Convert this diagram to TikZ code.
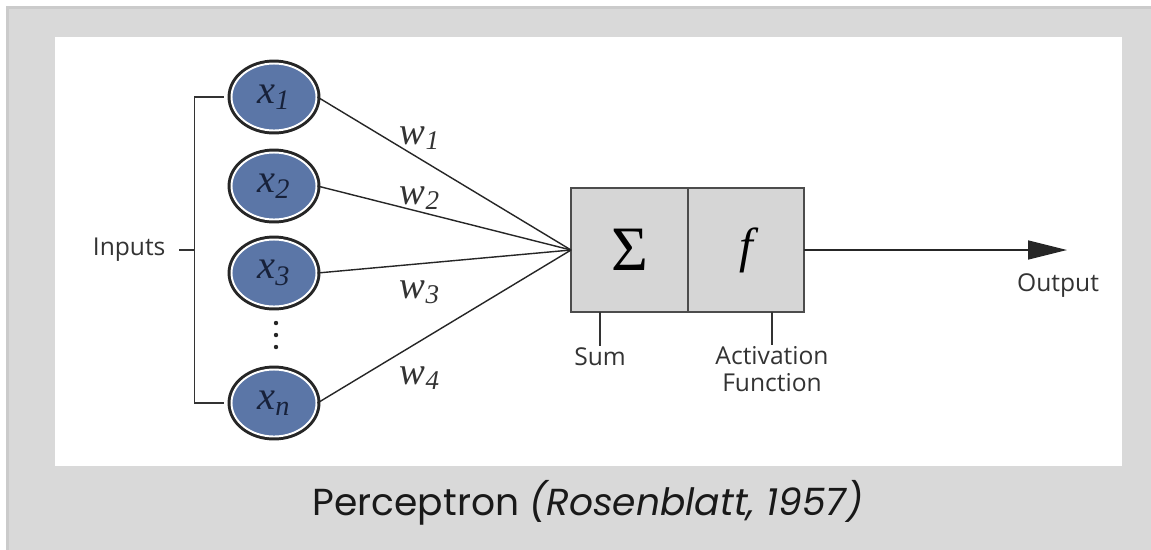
\documentclass[tikz,border=0pt]{standalone}
\usepackage{fontspec}
\setmainfont{Liberation Serif}
\newfontfamily\lblfont{Open Sans}
\newfontfamily\capfont{Poppins}
\usepackage{xcolor}
\usetikzlibrary{arrows.meta, positioning, shapes.geometric}
\definecolor{clrBack}{HTML}{D9D9D9}
\definecolor{clrFrame}{HTML}{CBCBCB}
\definecolor{clrNode}{HTML}{5B76A7}
\definecolor{clrNavy}{HTML}{17213A}
\definecolor{clrBox}{HTML}{D6D6D6}
\definecolor{clrInk}{HTML}{333333}

\begin{document}
\begin{tikzpicture}[x=0.02cm, y=-0.02cm,
    inp/.style={ellipse, minimum width=1.7cm, minimum height=1.34cm, inner sep=0pt, fill=clrNode, draw=white, line width=1.1pt, preaction={draw=black!85, line width=4.5pt}, text=clrNavy, font=\fontsize{23}{24}\selectfont\itshape},
    wlbl/.style={text=black!80, font=\fontsize{22}{24}\selectfont\itshape},
    part/.style={rectangle, draw=black!70, fill=clrBox, line width=1.1pt, minimum width=2.34cm, minimum height=2.48cm, outer sep=0pt},
    lbl/.style={text=clrInk, font=\lblfont\fontsize{14}{15}\selectfont, align=center, inner sep=1pt},
    wire/.style={line width=0.8pt, black!85},
    brace/.style={line width=0.8pt, clrInk},
    outarrow/.style={-{Triangle[length=0.78cm, width=0.38cm]}, line width=0.8pt, black!85},
]
\useasboundingbox (0,0) rectangle (1151,549);

% frame and white panel
\fill[white] (0,0) rectangle (1151,549);
\draw[fill=clrBack, draw=clrFrame, line width=1.7pt] (7.5,7.5) rectangle (1170,570);
\fill[white] (55,37) rectangle (1122,466);

% inputs
\node[inp] (x1) at (274,97) {x\textsubscript{1}};
\node[inp] (x2) at (274,186) {x\textsubscript{2}};
\node[inp] (x3) at (274,273) {x\textsubscript{3}};
\node[inp] (xn) at (274,403) {x\textsubscript{n}};
\foreach \yy in {323,335,347}
    \fill[black!85] (276,\yy) circle (2.2);

% bracket
\draw[brace] ([xshift=-0.14cm]x1.west) -- ++(-29,0) coordinate (btop) |- ([xshift=-0.14cm]xn.west);
\coordinate (bmid) at (btop |- 0,250);
\draw[brace] (bmid) -- ++(-16,0) coordinate (itick);
\node[lbl, left=0.22cm of itick] (inputs) {Inputs};

% sum and activation
\node[part] (sum) at (629.5,250) {\fontsize{36}{38}\selectfont Σ};
\node[part, right=0pt of sum, minimum width=2.32cm] (act) {\fontsize{28}{30}\selectfont\itshape f};

% weighted connections
\foreach \src in {x1,x2,x3,xn}
    \draw[wire] (\src.east) -- (sum.west);
\node[wlbl] (w1) at (420,138) {w\textsubscript{1}};
\node[wlbl] (w2) at (420,198) {w\textsubscript{2}};
\node[wlbl] (w3) at (420,292) {w\textsubscript{3}};
\node[wlbl] (w4) at (420,378) {w\textsubscript{4}};

% labels under the box
\node[lbl] (sumlbl) at (600,357) {Sum};
\node[lbl] (actlbl) at (772,369) {Activation\\Function};
\draw[brace] (sumlbl.north) -- (sumlbl.north |- sum.south);
\draw[brace] (actlbl.north) -- (actlbl.north |- act.south);

% output
\coordinate (outtip) at (1067,250);
\draw[outarrow] (act.east) -- (outtip);
\node[lbl] (output) at (1058,286) {Output};

% caption
\node[text=black!90, font=\capfont\fontsize{21.4}{26}\selectfont] (caption) at (588,503) {Perceptron \textit{(Rosenblatt, 1957)}};

\end{tikzpicture}
\end{document}
